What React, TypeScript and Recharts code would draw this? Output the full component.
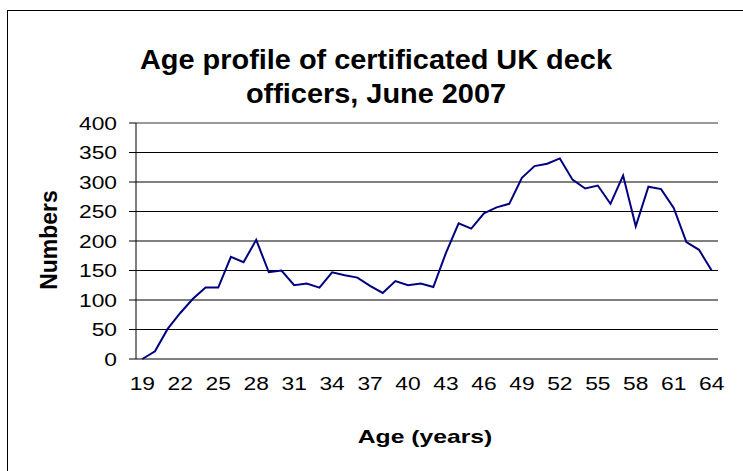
import { LineChart, Line, XAxis, YAxis, CartesianGrid, ReferenceLine } from 'recharts';

// ages 19..64, one point per year
const ages = [
  19, 20, 21, 22, 23, 24, 25, 26, 27, 28, 29, 30, 31, 32, 33, 34, 35, 36, 37, 38, 39, 40, 41,
  42, 43, 44, 45, 46, 47, 48, 49, 50, 51, 52, 53, 54, 55, 56, 57, 58, 59, 60, 61, 62, 63, 64,
];

const officers = [
  0, 13, 51, 78, 102, 121, 121, 173, 164, 202, 147, 150, 125, 128, 121, 147, 142, 138, 124, 112,
  132, 125, 128, 122, 180, 230, 221, 247, 257, 263, 307, 327, 331, 340, 304, 289, 294, 263, 311,
  225, 292, 288, 256, 198, 185, 150,
];

const yTicks = [0, 50, 100, 150, 200, 250, 300, 350, 400];
const ageLabels = [19, 22, 25, 28, 31, 34, 37, 40, 43, 46, 49, 52, 55, 58, 61, 64];

const data = ages.map((age, i) => ({ age, officers: officers[i] }));
// tick marks sit between the years, like the old Excel chart
const boundaryTicks = [...ages.map((a) => a - 0.5), ages[ages.length - 1] + 0.5];

const FONT = '"Liberation Sans", Arial, sans-serif';
const STRETCH = 1.2;

function YTick({ x, y, payload }: any) {
  return (
    <text
      transform={`translate(${x},${y}) scale(${STRETCH},1)`}
      textAnchor="end"
      dy="0.36em"
      fontSize={19}
      fontFamily={FONT}
      fill="#000"
    >
      {payload.value}
    </text>
  );
}

function XTick({ x, y, payload }: any) {
  return (
    <text
      transform={`translate(${x},${y}) scale(${STRETCH},1)`}
      textAnchor="middle"
      dy="0.36em"
      fontSize={19}
      fontFamily={FONT}
      fill="#000"
    >
      {payload.value}
    </text>
  );
}

export default function App() {
  return (
    <div
      style={{
        position: 'absolute',
        left: 0,
        top: 0,
        width: 743,
        height: 471,
        overflow: 'hidden',
        background: '#fff',
        fontFamily: FONT,
      }}
    >
      {/* outer chart frame, runs off the right and bottom */}
      <div
        style={{
          position: 'absolute',
          left: 7,
          top: 10,
          width: 800,
          height: 520,
          border: '1.5px solid #000',
        }}
      />

      <div
        style={{
          position: 'absolute',
          left: 7,
          top: 43,
          width: 738,
          textAlign: 'center',
          fontSize: 27,
          fontWeight: 'bold',
          lineHeight: '34px',
          transform: 'scaleX(1.07)',
        }}
      >
        <div>Age profile of certificated UK deck</div>
        <div>officers, June 2007</div>
      </div>

      <div style={{ position: 'absolute', left: 0, top: 0 }}>
        <LineChart width={743} height={471} data={data} margin={{ top: 123, right: 25, bottom: 82, left: 0 }}>
          <CartesianGrid vertical={false} stroke="#000" />

          <XAxis
            xAxisId="bounds"
            type="number"
            dataKey="age"
            domain={[18.5, 64.5]}
            ticks={boundaryTicks}
            tickFormatter={() => ''}
            tickSize={5}
            height={0}
            allowDataOverflow
            axisLine={{ stroke: '#000' }}
            tickLine={{ stroke: '#000' }}
          />
          <XAxis
            xAxisId="labels"
            type="number"
            dataKey="age"
            domain={[18.5, 64.5]}
            ticks={ageLabels}
            interval={0}
            height={30}
            tickMargin={18}
            allowDataOverflow
            axisLine={false}
            tickLine={false}
            tick={<XTick />}
          />

          <YAxis
            domain={[0, 400]}
            ticks={yTicks}
            interval={0}
            width={136}
            tickSize={7}
            tickMargin={12}
            axisLine={{ stroke: '#000' }}
            tickLine={{ stroke: '#000' }}
            tick={<YTick />}
          />
          {/* grey plot border on the right */}
          <YAxis
            yAxisId="right"
            orientation="right"
            domain={[0, 400]}
            width={0}
            tick={false}
            tickLine={false}
            axisLine={{ stroke: '#999', strokeWidth: 2 }}
          />
          <ReferenceLine xAxisId="bounds" y={400} stroke="#999" strokeWidth={2} />

          <Line
            xAxisId="bounds"
            type="linear"
            dataKey="officers"
            stroke="#000080"
            strokeWidth={2}
            dot={false}
            isAnimationActive={false}
          />
        </LineChart>
      </div>

      <div
        style={{
          position: 'absolute',
          left: 49,
          top: 240,
          transform: 'translate(-50%, -50%) rotate(-90deg)',
          fontSize: 23,
          fontWeight: 'bold',
          whiteSpace: 'nowrap',
        }}
      >
        Numbers
      </div>

      <div
        style={{
          position: 'absolute',
          left: 425,
          top: 437,
          transform: 'translate(-50%, -50%) scaleX(1.3)',
          fontSize: 19,
          fontWeight: 'bold',
          whiteSpace: 'nowrap',
        }}
      >
        Age (years)
      </div>
    </div>
  );
}
